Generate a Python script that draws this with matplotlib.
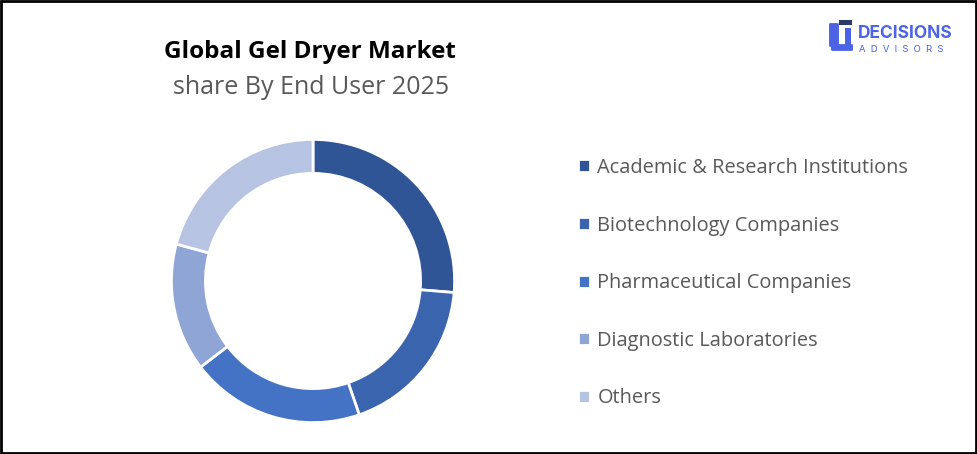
import matplotlib.pyplot as plt
from matplotlib.patches import Rectangle, FancyBboxPatch

# data (share %, clockwise from top)
segments = ["Academic & Research Institutions", "Biotechnology Companies",
            "Pharmaceutical Companies", "Diagnostic Laboratories", "Others"]
shares = [26.3, 18.4, 19.9, 14.6, 20.8]
colors = ["#2F5597", "#3A64AD", "#4472C4", "#8FA5D5", "#B7C3E3"]

title = "Global Gel Dryer Market"
subtitle = "share By End User 2025"

W, H = 977, 454
fig = plt.figure(figsize=(W / 100, H / 100), dpi=100)
plt.rcParams['font.family'] = ['Open Sans', 'DejaVu Sans']

# donut centred at (313, 281) px, radius ~143 px
cx, cy, r = 313, 281, 143
ax = fig.add_axes([(cx - r) / W, (H - cy - r) / H, 2 * r / W, 2 * r / H])
wedges, _ = ax.pie(shares, colors=colors, startangle=90, counterclock=False,
                   radius=1.0, wedgeprops=dict(width=0.24, edgecolor="white", linewidth=2))
ax.set_xlim(-1.01, 1.01)
ax.set_ylim(-1.01, 1.01)
ax.set_aspect("equal")
ax.axis("off")

# titles
fig.text(310 / W, 1 - 52 / H, title, ha="center", va="center",
         fontsize=17.5, fontweight="bold", color="black")
fig.text(311 / W, 1 - 88 / H, subtitle, ha="center", va="center",
         fontsize=18, color="#595959")

# legend
leg = fig.legend(wedges, segments, loc="upper left",
                 bbox_to_anchor=(560 / W, 1 - 140 / H), frameon=False,
                 fontsize=14.4, labelcolor="#595959", handlelength=0.62,
                 handleheight=0.62, handletextpad=0.35, labelspacing=1.88)

# logo
blue = "#4C63E6"
fig.text(858 / W, 1 - 34 / H, "DECISIONS", ha="left", va="center",
         fontsize=12.5, fontweight="bold", color=blue, family="Inter")
fig.text(859 / W, 1 - 49 / H, "A  D  V  I  S  O  R  S", ha="left", va="center",
         fontsize=6.8, color=blue, family="Inter")
fig.patches.append(FancyBboxPatch((831 / W, 1 - 46 / H), 6 / W, 22 / H,
                                  boxstyle="round,pad=0.002", transform=fig.transFigure,
                                  facecolor=blue, edgecolor="none"))
fig.patches.append(FancyBboxPatch((833 / W, 1 - 50 / H), 18 / W, 5 / H,
                                  boxstyle="round,pad=0.002", transform=fig.transFigure,
                                  facecolor=blue, edgecolor="none"))
fig.patches.append(Rectangle((845 / W, 1 - 48 / H), 6 / W, 20 / H,
                             transform=fig.transFigure, facecolor=blue, edgecolor="none"))
fig.patches.append(Rectangle((839 / W, 1 - 25 / H), 13 / W, 5 / H,
                             transform=fig.transFigure, facecolor="#2B3A67", edgecolor="none"))

# outer frame
fig.patches.append(Rectangle((0.001, 0.002), 0.998, 0.996, transform=fig.transFigure,
                             fill=False, edgecolor="black", linewidth=2))

fig.savefig("out.png", dpi=100)
